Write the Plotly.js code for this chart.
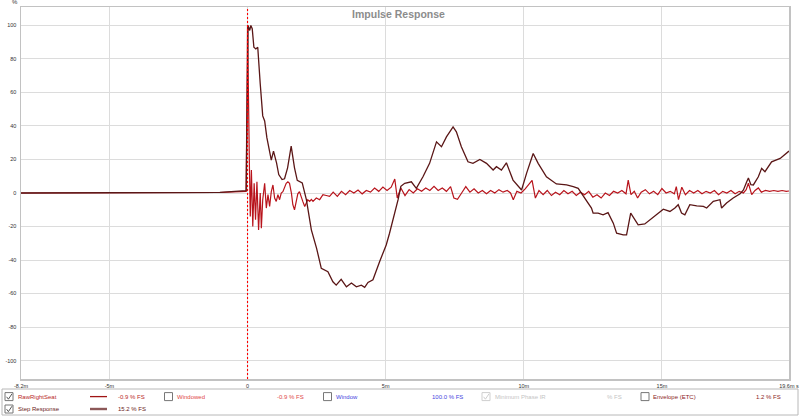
<!DOCTYPE html>
<html>
<head>
<meta charset="utf-8">
<script src="https://cdn.plot.ly/plotly-3.0.1.min.js"></script>
<style>
html,body{margin:0;padding:0;background:#fff;}
#chart{width:800px;height:417px;}
</style>
</head>
<body>
<div id="chart"></div>
<script>
// ---- data (time in ms, amplitude in %) ----
const impulseTime = [
  -8.2, -2.0, -1.0, -0.05, 0.0, 0.07, 0.1, 0.14, 0.19, 0.24,
  0.29, 0.34, 0.4, 0.46, 0.5, 0.55, 0.62, 0.68, 0.74, 0.8,
  0.86, 0.92, 0.98, 1.04, 1.1, 1.16, 1.22, 1.28, 1.34, 1.4,
  1.46, 1.52, 1.59, 1.64, 1.7, 1.76, 1.82, 1.88, 1.95, 2.0,
  2.07, 2.13, 2.18, 2.25, 2.31, 2.37, 2.49, 2.61, 2.73, 2.85,
  2.97,
  3.1, 3.25, 3.4, 3.55, 3.7, 3.85, 4.0, 4.15, 4.3, 4.45,
  4.6, 4.75, 4.9, 5.05, 5.2, 5.33, 5.42, 5.55, 5.7, 5.85,
  6.0, 6.15, 6.3, 6.45, 6.6, 6.75, 6.9, 7.05, 7.2, 7.35,
  7.47, 7.6, 7.75, 7.9, 8.05, 8.2, 8.35, 8.5, 8.65, 8.8,
  8.95, 9.1, 9.25, 9.4, 9.52, 9.62, 9.75, 9.9, 10.05, 10.18,
  10.3, 10.42, 10.55, 10.7, 10.85, 11.0, 11.15, 11.3, 11.45, 11.6,
  11.75, 11.9, 12.05, 12.2, 12.35, 12.5, 12.65, 12.8, 12.95, 13.1,
  13.25, 13.4, 13.55, 13.7, 13.78, 13.88, 14.0, 14.12, 14.25, 14.4,
  14.55, 14.7, 14.85, 15.0, 15.15, 15.3, 15.45, 15.52, 15.6, 15.72,
  15.85, 16.0, 16.15, 16.3, 16.45, 16.6, 16.75, 16.9, 17.05, 17.2,
  17.35, 17.5, 17.65, 17.8, 17.95, 18.05, 18.13, 18.25, 18.37, 18.49,
  18.6, 18.75, 18.9, 19.05, 19.2, 19.35, 19.5, 19.6
];
const impulseValues = [
  0, 0, 0.3, 1.0, 100, 13.7, -14, 13.7, -20, 5.8,
  -16, 6.7, -22, 0, -21, -4, 5.8, -9, -1, -8,
  0.8, 4.8, -3, -5, -1, -4, 0, 0.8, 3.8, 5.8,
  6.7, 5.8, -0.2, -7, -10, -4, -0.5, 0.8, -2, -5,
  -8, -6, -4, -5, -3.8, -5, -3, -4, -1, -1.5,
  -2,
  0.5, -2, 1, -1, 1.5, 0, 1.8, -0.5, 1.5, 0.5,
  3, 1, 3.5, 1.5, 3.5, 8.3, -3, 3, -1.5, 2,
  0, 2.5, 1, 3, 1.5, 4, 1.5, 3, 1, 3.8,
  -3, -3.8, 0, 3.8, 0.5, 2.5, 0, 1.5, -0.5, 1.5,
  0, 2, 0.5, 1.5, 0, -4, 1, 0, 2.5, 4.8,
  7.5, -3, 1.5, -1, 1.5, -1.5, 0.5, -1, 1.5, -0.5,
  1, -1.5, 0.5, -1, 1, -2.5, -1, -3, 0, -1.5,
  1, 0, 1.5, -0.5, 7.7, -1, 1, -3, 0.5, 2,
  -0.5, 1, -1, 2.7, 0, 1, -0.5, 3.8, -4, 3.5,
  -1, 1.5, 0, 1.5, -0.5, 1, 0, 1.5, -1, 1,
  0, 1.5, -0.5, 1, 0, 2, 5.8, -1, 1.5, 3,
  0.5, 1.5, 1, 1.5, 1, 1.5, 1, 1.2
];
const stepTime = [
  -8.2, -2.0, -1.0, -0.05, 0.02, 0.08, 0.12, 0.17, 0.23, 0.3,
  0.37, 0.46, 0.55, 0.62, 0.7, 0.86, 0.94, 1.05, 1.13, 1.25,
  1.34, 1.45, 1.58, 1.7, 1.8, 1.98, 2.05, 2.13, 2.31, 2.5,
  2.67, 2.91, 3.09, 3.21, 3.39, 3.58, 3.76, 3.94, 4.12, 4.24,
  4.36, 4.54, 4.78, 5.02, 5.14, 5.33, 5.45, 5.55, 5.69, 5.93,
  6.11, 6.35, 6.59, 6.84, 7.02, 7.2, 7.44, 7.56, 7.74, 7.98,
  8.16, 8.41, 8.65, 8.89, 9.01, 9.19, 9.37, 9.61, 9.92, 10.1,
  10.34, 10.52, 10.82, 11.18, 11.55, 11.79, 11.97, 12.09, 12.27, 12.45,
  12.51, 12.69, 12.87, 13.05, 13.24, 13.36, 13.6, 13.72, 13.87, 14.02,
  14.14, 14.38, 14.57, 14.81, 15.05, 15.29, 15.47, 15.59, 15.71, 15.83,
  16.01, 16.26, 16.5, 16.62, 16.86, 17.1, 17.16, 17.34, 17.58, 17.83,
  17.95, 18.07, 18.13, 18.22, 18.31, 18.49, 18.61, 18.73, 18.97, 19.28,
  19.6
];
const stepValues = [
  0, 0, 0.4, 1.4, 100, 97, 100, 98, 87, 86,
  87, 65, 46, 43, 33, 19.6, 25, 18, 11, 8,
  8.5, 15, 28, 15, 7.5, 6, 2, -4, -22, -33,
  -45, -47, -53, -55, -51.5, -56, -53.7, -56, -55, -56.3,
  -53.4, -51.8, -41, -31, -24, -12, -4, 4, 5.8, 6.7,
  2.8, 9.7, 17.7, 30.5, 27.6, 33.5, 39.5, 36.5, 27.6, 18.6,
  17.7, 20, 17.7, 13.7, 15.7, 13.7, 18, 7.7, 1.8, 11.7,
  23.6, 17.7, 9.7, 5.4, 4.8, 3.8, 2.8, -0.2, -5, -9,
  -12, -12, -13, -11.7, -18, -24, -25, -25, -12, -16,
  -19, -18.5, -16, -13, -9.7, -11, -9, -7, -12, -13,
  -7, -7.7, -8, -9, -5, -4, -9, -6, -3, -0.5,
  1.8, 6.7, 9, 5, 4.8, 9.7, 14.7, 12.7, 18.6, 20.6,
  25
];
const xTickValues = [-8.2, -5, 0, 5, 10, 15, 19.6];
const xTickLabels = ['-8.2m', '-5m', '0', '5m', '10m', '15m', '19.6m s'];
const yTickValues = [100, 80, 60, 40, 20, 0, -20, -40, -60, -80, -100];
const yTickLabels = ['100', '80', '60', '40', '20', '0', '-20', '-40', '-60', '-80', '-100'];
const timeZero = 0;
const seriesNames = ['RawRightSeat', 'Step Response'];
const seriesReadouts = ['-0.9 % FS', '15.2 % FS'];
const otherItems = ['Windowed', 'Window', 'Minimum Phase IR', 'Envelope (ETC)'];
const otherReadouts = ['-0.9 % FS', '100.0 % FS', '% FS', '1.2 % FS'];

// ---- geometry helpers (pixel -> paper) ----
const ML = 21, MT = 7, PW = 768, PH = 372;
const px = p => (p - ML) / PW;
const py = p => (MT + PH - p) / PH;

const RED = '#b8141c';
const MAROON = '#5a1616';

const traces = [
  {x: impulseTime, y: impulseValues, type: 'scatter', mode: 'lines', name: seriesNames[0],
   line: {color: RED, width: 1.2}, hoverinfo: 'skip'},
  {x: stepTime, y: stepValues, type: 'scatter', mode: 'lines', name: seriesNames[1],
   line: {color: MAROON, width: 1.3}, hoverinfo: 'skip'}
];

const shapes = [];
const annotations = [];
const FONT = 'Liberation Sans, Arial, sans-serif';

// time zero marker (red dashes drawn over the plot)
shapes.push({type: 'line', xref: 'x', yref: 'paper', x0: timeZero, x1: timeZero, y0: 0, y1: 1,
  line: {color: '#ff0000', width: 1.1, dash: '2px,2px'}, layer: 'above'});

// legend panel
shapes.push({type: 'rect', xref: 'paper', yref: 'paper', x0: px(2), x1: px(798), y0: py(415), y1: py(389),
  line: {color: '#b8b8b8', width: 1}, fillcolor: 'rgba(0,0,0,0)'});

function checkbox(x, y, checked, col) {
  shapes.push({type: 'rect', xref: 'paper', yref: 'paper', x0: px(x), x1: px(x + 8), y0: py(y + 8), y1: py(y),
    line: {color: col, width: 1}, fillcolor: '#ffffff'});
  if (checked) {
    const p = `M ${px(x + 1.6)} ${py(y + 4.2)} L ${px(x + 3.4)} ${py(y + 6.6)} L ${px(x + 7)} ${py(y + 1.2)}`;
    shapes.push({type: 'path', xref: 'paper', yref: 'paper', path: p, line: {color: col === '#cfcfcf' ? '#c8c8c8' : '#444', width: 0.9}});
  }
}
function label(x, y, text, color) {
  annotations.push({xref: 'paper', yref: 'paper', x: px(x), y: py(y), text: text, showarrow: false,
    xanchor: 'left', yanchor: 'middle', font: {family: FONT, size: 6, color: color}});
}
function sample(x0, x1, y, color, w) {
  shapes.push({type: 'line', xref: 'paper', yref: 'paper', x0: px(x0), x1: px(x1), y0: py(y), y1: py(y),
    line: {color: color, width: w}});
}

const R1 = 396.6, R2 = 409;
checkbox(5, R1 - 4, true, '#777');
label(15.5, R1, seriesNames[0], '#b82828');
sample(90, 107, R1, '#a01414', 1.3);
label(115.5, R1, seriesReadouts[0], '#b82828');
checkbox(164.5, R1 - 4, false, '#777');
label(174.5, R1, otherItems[0], '#e04848');
label(274.5, R1, otherReadouts[0], '#e04848');
checkbox(323.5, R1 - 4, false, '#777');
label(333.5, R1, otherItems[1], '#4646e0');
label(429.5, R1, otherReadouts[1], '#4646e0');
checkbox(482, R1 - 4, true, '#cfcfcf');
label(492.5, R1, otherItems[2], '#c4c4c4');
label(605, R1, otherReadouts[2], '#c4c4c4');
checkbox(641, R1 - 4, false, '#777');
label(651, R1, otherItems[3], '#8c2424');
label(753.5, R1, otherReadouts[3], '#8c2424');

checkbox(5, R2 - 4, true, '#777');
label(15.5, R2, seriesNames[1], '#6a2222');
sample(90, 107, R2, '#8c5858', 2.4);
label(115.5, R2, seriesReadouts[1], '#6a2222');

// unit label
annotations.push({xref: 'paper', yref: 'paper', x: px(15), y: py(2.5), text: '%', showarrow: false,
  xanchor: 'center', yanchor: 'middle', font: {family: FONT, size: 6, color: '#333'}});

const layout = {
  width: 800, height: 417,
  margin: {l: ML, r: 800 - ML - PW, t: MT, b: 417 - MT - PH, pad: 0},
  paper_bgcolor: '#ffffff', plot_bgcolor: '#ffffff',
  showlegend: false,
  title: {text: '<b>Impulse Response</b>', x: 398.5 / 800, xref: 'container', xanchor: 'center',
    y: 1 - 14 / 417, yref: 'container', yanchor: 'middle',
    font: {family: FONT, size: 10.5, color: '#8c8c8c'}},
  xaxis: {range: [-8.2, 19.6], tickvals: xTickValues, ticktext: xTickLabels, showgrid: true,
    gridcolor: '#dcdcdc', gridwidth: 1, zeroline: false, showline: true, mirror: true,
    linecolor: '#c2c2c2', linewidth: 1.5, ticks: '', ticklabelstandoff: 1,
    tickfont: {family: FONT, size: 5.5, color: '#333'}, fixedrange: true},
  yaxis: {range: [-111, 111], tickvals: yTickValues, ticktext: yTickLabels, showgrid: true,
    gridcolor: '#dcdcdc', gridwidth: 1, zeroline: false, showline: true, mirror: true,
    linecolor: '#c2c2c2', linewidth: 1.5, ticks: '', ticklabelstandoff: 2,
    tickfont: {family: FONT, size: 5.5, color: '#333'}, fixedrange: true},
  shapes: shapes,
  annotations: annotations
};

Plotly.newPlot('chart', traces, layout, {staticPlot: true, displayModeBar: false});
</script>
</body>
</html>
